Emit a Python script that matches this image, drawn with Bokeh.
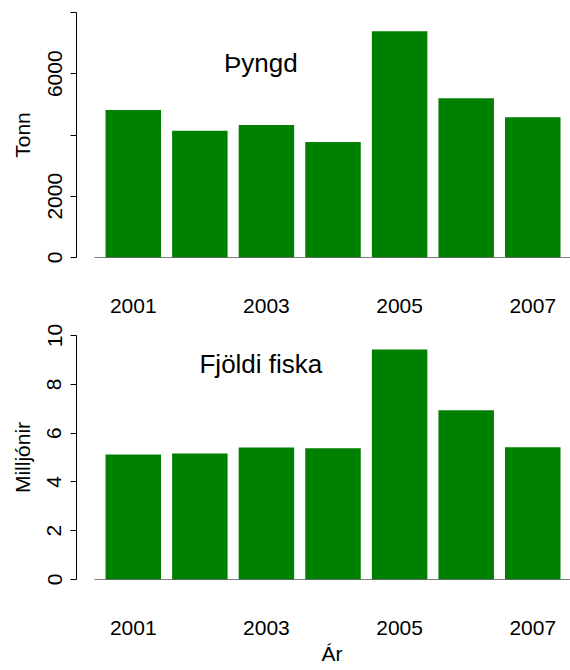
from bokeh.plotting import figure
from bokeh.layouts import column
from bokeh.models import Label, FixedTicker, Range1d, Title
from bokeh.embed import file_html
from bokeh.resources import INLINE

# ---- data ----
years = [2001, 2002, 2003, 2004, 2005, 2006, 2007]
weight_tonn = [4820, 4140, 4330, 3770, 7390, 5200, 4580]
count_millions = [5.12, 5.16, 5.41, 5.38, 9.43, 6.94, 5.42]
shown_years = [2001, 2003, 2005, 2007]
y1_ticks = [0, 2000, 4000, 6000, 8000]
y1_shown = [0, 2000, 6000]
y2_ticks = [0, 2, 4, 6, 8, 10]
title1 = "Þyngd"
title2 = "Fjöldi fiska"
ylabel1 = "Tonn"
ylabel2 = "Milljónir"
xlabel = "Ár"

FONT = "Liberation Sans"
GREEN = "#008000"
BAR_W = 1.0
SPACE = 0.2
centers = [round(SPACE + BAR_W / 2 + i * (BAR_W + SPACE), 3) for i in range(len(years))]
X0, X1 = -0.323, 8.58


def panel(values, ymax, yticks, shown, ylabel, title, title_x, title_y,
          height, top_border, bottom_border):
    p = figure(width=570, height=height,
               x_range=Range1d(X0, X1), y_range=Range1d(0, ymax),
               output_backend="svg", toolbar_location=None,
               min_border_left=76, min_border_right=0,
               min_border_top=top_border, min_border_bottom=bottom_border)
    p.outline_line_color = None
    p.xgrid.visible = False
    p.ygrid.visible = False
    p.background_fill_color = "white"
    p.border_fill_color = "white"

    p.vbar(x=centers, top=values, bottom=0, width=BAR_W,
           fill_color=GREEN, line_color=None)
    p.segment(x0=[0], x1=[X1], y0=[0], y1=[0], line_color="black", line_width=1.2)

    # x axis: labels only
    xa = p.xaxis[0]
    tick_pos = [centers[years.index(y)] for y in shown_years]
    xa.ticker = FixedTicker(ticks=tick_pos)
    xa.major_label_overrides = {c: str(y) for c, y in zip(tick_pos, shown_years)}
    xa.axis_line_color = None
    xa.major_tick_line_color = None
    xa.minor_tick_line_color = None
    xa.major_label_standoff = 35
    xa.major_label_text_font = FONT
    xa.major_label_text_font_size = "21px"
    xa.major_label_text_color = "black"

    ya = p.yaxis[0]
    ya.ticker = FixedTicker(ticks=yticks)
    ya.major_label_overrides = {t: (str(t) if t in shown else "") for t in yticks}
    ya.axis_line_color = "black"
    ya.axis_line_width = 1
    ya.major_tick_line_color = "black"
    ya.major_tick_out = 6
    ya.major_tick_in = 0
    ya.minor_tick_line_color = None
    ya.major_label_orientation = "vertical"
    ya.major_label_standoff = 9
    ya.major_label_text_font = FONT
    ya.major_label_text_font_size = "21px"
    ya.major_label_text_color = "black"
    ya.axis_label = ylabel
    ya.axis_label_text_font = FONT
    ya.axis_label_text_font_size = "21px"
    ya.axis_label_text_font_style = "normal"
    ya.axis_label_text_color = "black"
    ya.axis_label_standoff = 11

    p.add_layout(Label(x=title_x, y=title_y, text=title, text_font=FONT,
                       text_font_size="26px", text_align="center",
                       text_baseline="middle", text_color="black"))
    return p


p1 = panel(weight_tonn, 8000, y1_ticks, y1_shown, ylabel1, title1, 3.0, 6350,
           320, 12, 63)
p2 = panel(count_millions, 10, y2_ticks, y2_ticks, ylabel2, title2, 3.0, 8.83,
           350, 15, 91)
p2.add_layout(Title(text=xlabel, align="left", offset=245, text_font=FONT,
                    text_font_size="21px", text_font_style="normal",
                    text_color="black", standoff=5), "below")

layout = column(p1, p2, spacing=0)
open("out.html", "w").write(file_html(layout, INLINE))
